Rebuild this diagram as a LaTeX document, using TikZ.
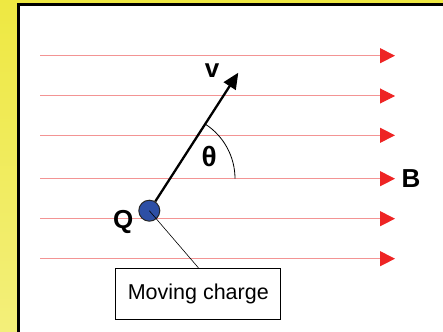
\documentclass[tikz,border=0pt]{standalone}
\usepackage{fontspec}
\setmainfont{Liberation Sans}
\usetikzlibrary{arrows.meta,positioning,calc}
\definecolor{slideyellow}{HTML}{EEE842}
\definecolor{slideyellowlt}{HTML}{F3EF7A}
\definecolor{fieldpink}{HTML}{F39494}
\definecolor{fieldred}{HTML}{EE2424}
\definecolor{chargeblue}{HTML}{2D4FA5}
\tikzset{
  field/.style   = {draw=fieldpink, line width=1pt,
                    -{Triangle[length=15pt, width=15pt, color=fieldred]}},
  vel/.style     = {line width=2.3pt, -{Triangle[length=16pt, width=14pt]}},
  charge/.style  = {circle, draw=black!85, line width=1pt, fill=chargeblue,
                    minimum size=21pt, inner sep=0pt},
  lbl/.style     = {font=\fontsize{26}{26}\selectfont\bfseries, inner sep=0pt},
  callout/.style = {draw, line width=1.2pt, minimum width=165pt, minimum height=51pt,
                    font=\fontsize{21.5}{24}\selectfont},
  leader/.style  = {line width=0.6pt},
}
\begin{document}
\begin{tikzpicture}[x=1pt, y=-1pt]
  \useasboundingbox (0,0) rectangle (443,331);
  \clip (0,0) rectangle (443,331);
  \shade[top color=slideyellow, bottom color=slideyellowlt] (0,0) rectangle (443,331);
  \draw[line width=2.5pt, fill=white] (18.5,4.5) rectangle (460,350);
  % field lines
  \foreach \y in {55.7,96,135.3,178.7,218.7,258.7}
    \draw[field] (40,\y) -- (395,\y);
  \node[lbl] (blbl) at (411,178.3) {B};
  % charge and velocity
  \node[charge] (q) at (149.3,210.7) {};
  \coordinate (vtip) at (238.3,72.7);
  \draw[vel] (q) -- (vtip);
  \node[lbl] (vlbl) at (212,71) {v};
  \node[lbl] (qlbl) at (123.3,222) {Q};
  \coordinate (pivot) at (170,178.7);
  \draw[line width=0.8pt] (pivot) ++(65,0) arc[start angle=0, end angle=-57, radius=65];
  \node[lbl, font=\fontsize{28}{28}\selectfont\bfseries] (theta) at (209.3,156.7) {θ};
  \node[callout] (mc) at (198.3,293.8) {Moving charge};
  \draw[leader] (q.center) -- (mc.north);
\end{tikzpicture}
\end{document}
